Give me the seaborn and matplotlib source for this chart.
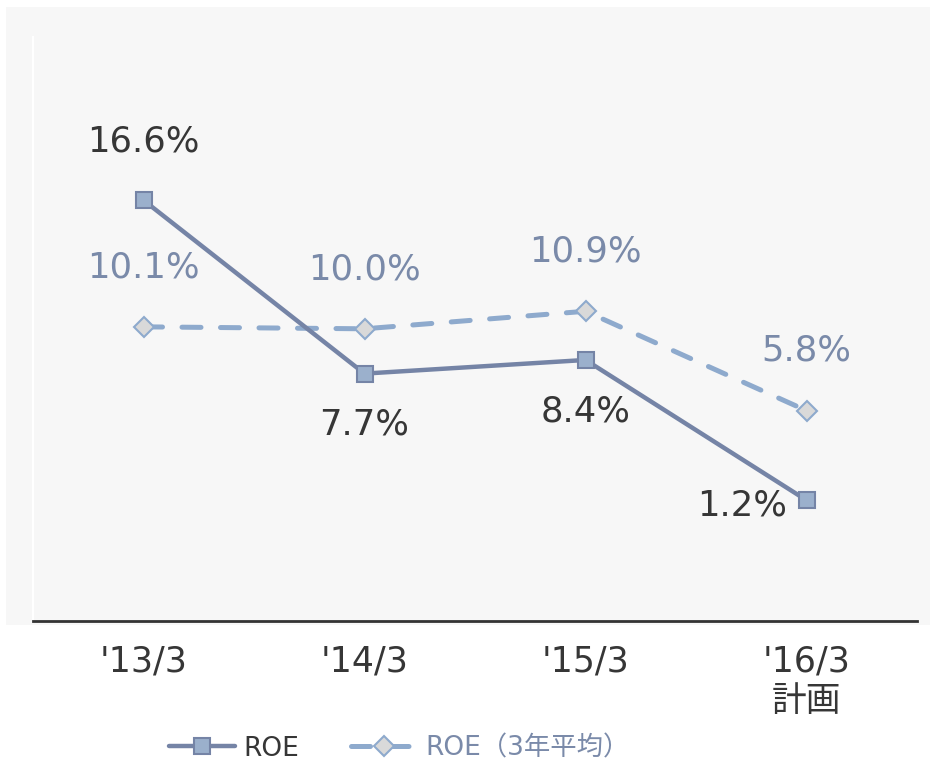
import matplotlib
matplotlib.use("Agg")
import matplotlib.pyplot as plt
from matplotlib.patches import Rectangle
import pandas as pd
import seaborn as sns

# データ
periods = ["'13/3", "'14/3", "'15/3", "'16/3\n計画"]
roe = [16.6, 7.7, 8.4, 1.2]
roe_3yr = [10.1, 10.0, 10.9, 5.8]
roe_labels = ["16.6%", "7.7%", "8.4%", "1.2%"]
roe_3yr_labels = ["10.1%", "10.0%", "10.9%", "5.8%"]

df = pd.DataFrame({"期": periods, "ROE": roe, "ROE3": roe_3yr})

sns.set_theme(style="white")
plt.rcParams['font.family'] = ['DejaVu Sans', 'Noto Sans CJK JP']
plt.rcParams['axes.unicode_minus'] = False

c_roe = "#7584a6"
c_roe_face = "#9bb0cc"
c_avg = "#8eaacd"
c_avg_face = "#d9d9d9"
c_dark = "#363636"
c_light = "#7a8aa9"

fig = plt.figure(figsize=(9.31, 7.63), dpi=100, facecolor="white")
# 背景パネル
fig.patches.append(Rectangle((6 / 931, 1 - 625 / 763), 924 / 931, 618 / 763,
                             transform=fig.transFigure, facecolor="#f7f7f7",
                             edgecolor="none", zorder=-10))
ax = fig.add_axes([33 / 931, 1 - 621 / 763, 884 / 931, 584.4 / 763])
ax.set_facecolor("none")

sns.lineplot(data=df, x="期", y="ROE", ax=ax, sort=False, color=c_roe, lw=3.2,
             marker="s", markersize=11.5, markerfacecolor=c_roe_face,
             markeredgecolor=c_roe, markeredgewidth=1.5, label="ROE", zorder=3)
sns.lineplot(data=df, x="期", y="ROE3", ax=ax, sort=False, color=c_avg, lw=3.6,
             linestyle=(0, (3.8, 3.9)), dash_capstyle="round",
             marker="D", markersize=10, markerfacecolor=c_avg_face,
             markeredgecolor=c_avg, markeredgewidth=1.5,
             label="ROE（3年平均）", zorder=2)

# データラベル
fs = 25.5
for i, (v, t) in enumerate(zip(roe, roe_labels)):
    if i == 0:
        ax.annotate(t, (i, v), xytext=(0, 42), textcoords="offset points",
                    ha="center", va="center", fontsize=fs, color=c_dark)
    elif i == 3:
        ax.annotate(t, (i, v), xytext=(-46, -4), textcoords="offset points",
                    ha="center", va="center", fontsize=fs, color=c_dark)
    else:
        ax.annotate(t, (i, v), xytext=(0, -37), textcoords="offset points",
                    ha="center", va="center", fontsize=fs, color=c_dark)
for i, (v, t) in enumerate(zip(roe_3yr, roe_3yr_labels)):
    ax.annotate(t, (i, v), xytext=(0, 43), textcoords="offset points",
                ha="center", va="center", fontsize=fs, color=c_light)

ax.set_xlim(-0.5, 3.5)
ax.set_ylim(-5, 25)
ax.set_yticks([])
ax.set_xlabel("")
ax.set_ylabel("")
ax.tick_params(axis="x", length=0, pad=17, labelsize=25, labelcolor=c_dark)
for s in ["top", "right"]:
    ax.spines[s].set_visible(False)
ax.spines["left"].set_color("white")
ax.spines["left"].set_linewidth(1.5)
ax.spines["bottom"].set_color("#333333")
ax.spines["bottom"].set_linewidth(2)

ax.get_legend().remove()
h, l = ax.get_legend_handles_labels()
leg = fig.legend(h, l, loc="center", bbox_to_anchor=(0.429, 0.019), ncol=2,
                 frameon=False, fontsize=19, handlelength=2.5, handletextpad=0.3,
                 columnspacing=2.0)
leg.get_texts()[0].set_color(c_dark)
leg.get_texts()[1].set_color(c_light)

fig.savefig("out.png", dpi=100, facecolor="white")
